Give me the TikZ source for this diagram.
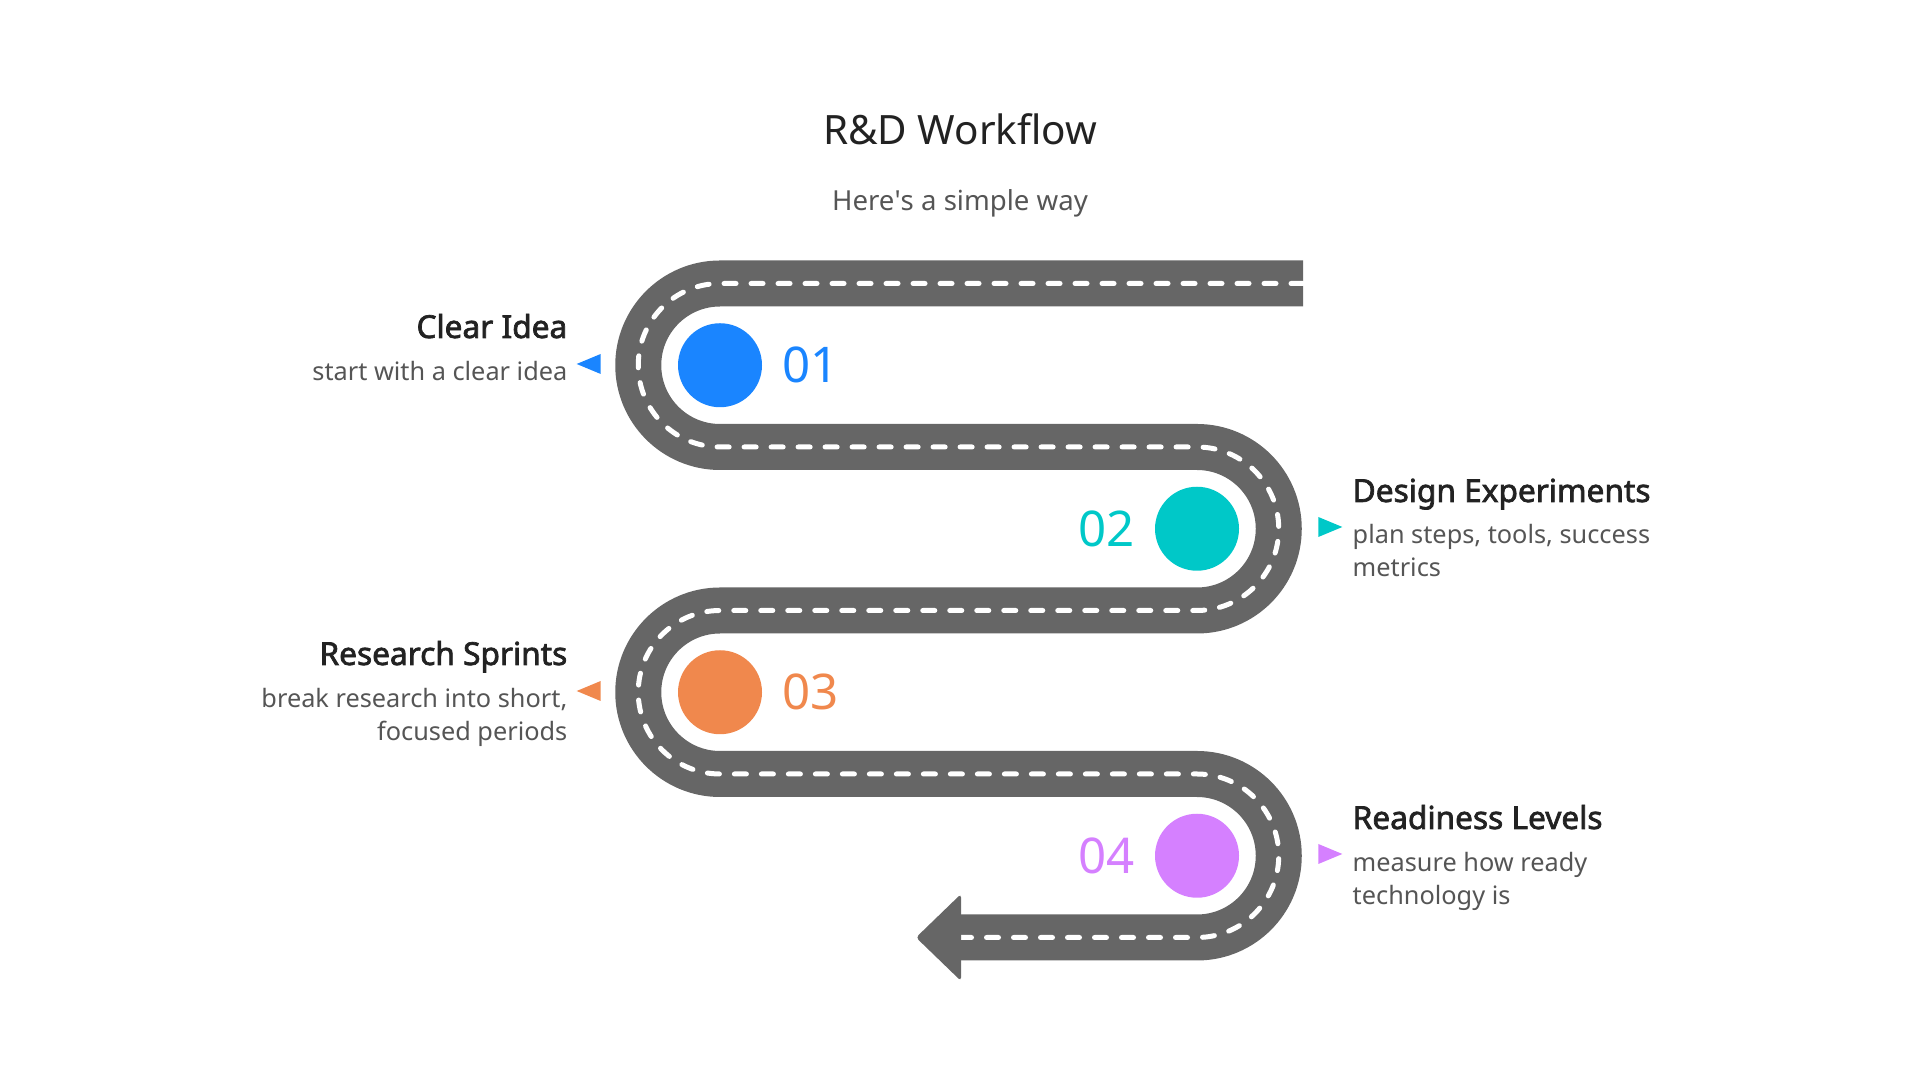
\documentclass[tikz,border=0pt]{standalone}
\usepackage{fontspec}
\setmainfont{Noto Sans}[BoldFont={Noto Sans}, BoldFeatures={FakeBold=2.2}]
\usetikzlibrary{positioning,shapes.geometric}
\definecolor{roadgray}{RGB}{102,102,102}
\definecolor{stepblue}{RGB}{26,133,255}
\definecolor{stepteal}{RGB}{0,200,200}
\definecolor{steporange}{RGB}{240,136,77}
\definecolor{steppurple}{RGB}{213,128,255}
\definecolor{headdark}{RGB}{34,34,34}
\definecolor{textgray}{RGB}{85,85,85}

\tikzset{
  road/.style={line width=0.46cm, roadgray},
  lane/.style={draw=white, line width=0.05cm, line cap=round, dash pattern=on 0.12cm off 0.15cm},
  stepdot/.style={circle, fill=#1, minimum size=0.84cm, inner sep=0pt},
  stepnum/.style={text=#1, font=\fontsize{14}{16}\selectfont, inner sep=0pt},
  marker/.style={isosceles triangle, isosceles triangle stretches, fill=#1, minimum width=0.2cm, minimum height=0.24cm, inner sep=0pt},
  head/.style={font=\fontsize{9}{11}\selectfont\bfseries, text=headdark, inner sep=0pt},
  desc/.style={font=\fontsize{7.2}{9.6}\selectfont, text=textgray, inner sep=0pt},
}

\begin{document}
\begin{tikzpicture}
    \useasboundingbox (0,0) rectangle (19.2,10.8);

    \node[font=\fontsize{11.5}{14}\selectfont, text=headdark, anchor=base] (title) at (9.6,9.35) {R\&D Workflow};
    \node[font=\fontsize{7.85}{10}\selectfont, text=textgray, anchor=base] (subtitle) at (9.6,8.69) {Here\textquotesingle s a simple way};

    % the road
    \draw[road, postaction={lane}] (13.03,7.965) -- (7.2,7.965)
        arc[start angle=90, end angle=270, radius=0.8175] -- (11.97,6.33)
        arc[start angle=90, end angle=-90, radius=0.8175] -- (7.2,4.695)
        arc[start angle=90, end angle=270, radius=0.8175] -- (11.97,3.06)
        arc[start angle=90, end angle=-90, radius=0.8175] -- (9.61,1.425);
    \fill[roadgray, rounded corners=1pt] (9.61,1.86) -- (9.16,1.425) -- (9.61,0.99) -- cycle;

    \node[stepdot=stepblue] (c1) at (7.2,7.1475) {};
    \node[stepdot=stepteal] (c2) at (11.97,5.5125) {};
    \node[stepdot=steporange] (c3) at (7.2,3.8775) {};
    \node[stepdot=steppurple] (c4) at (11.97,2.2425) {};

    \node[stepnum=stepblue, right=0.19cm of c1] (n1) {01};
    \node[stepnum=stepteal, left=0.19cm of c2] (n2) {02};
    \node[stepnum=steporange, right=0.19cm of c3] (n3) {03};
    \node[stepnum=steppurple, left=0.19cm of c4] (n4) {04};

    \node[marker=stepblue, shape border rotate=180] (m1) at (5.94,7.16) {};
    \node[marker=stepteal] (m2) at (13.25,5.53) {};
    \node[marker=steporange, shape border rotate=180] (m3) at (5.94,3.89) {};
    \node[marker=steppurple] (m4) at (13.25,2.26) {};

    \node[head, anchor=base east] (h1) at (5.68,7.42) {Clear Idea};
    \node[desc, anchor=base east, align=right] (d1) at (5.68,6.99) {start with a clear idea};
    \node[head, anchor=base west] (h2) at (13.52,5.78) {Design Experiments};
    \node[desc, anchor=base west, align=left] (d2) at (13.52,5.03) {plan steps, tools, success\\metrics};
    \node[head, anchor=base east] (h3) at (5.68,4.15) {Research Sprints};
    \node[desc, anchor=base east, align=right] (d3) at (5.68,3.39) {break research into short,\\focused periods};
    \node[head, anchor=base west] (h4) at (13.52,2.51) {Readiness Levels};
    \node[desc, anchor=base west, align=left] (d4) at (13.52,1.75) {measure how ready\\technology is};
\end{tikzpicture}
\end{document}
